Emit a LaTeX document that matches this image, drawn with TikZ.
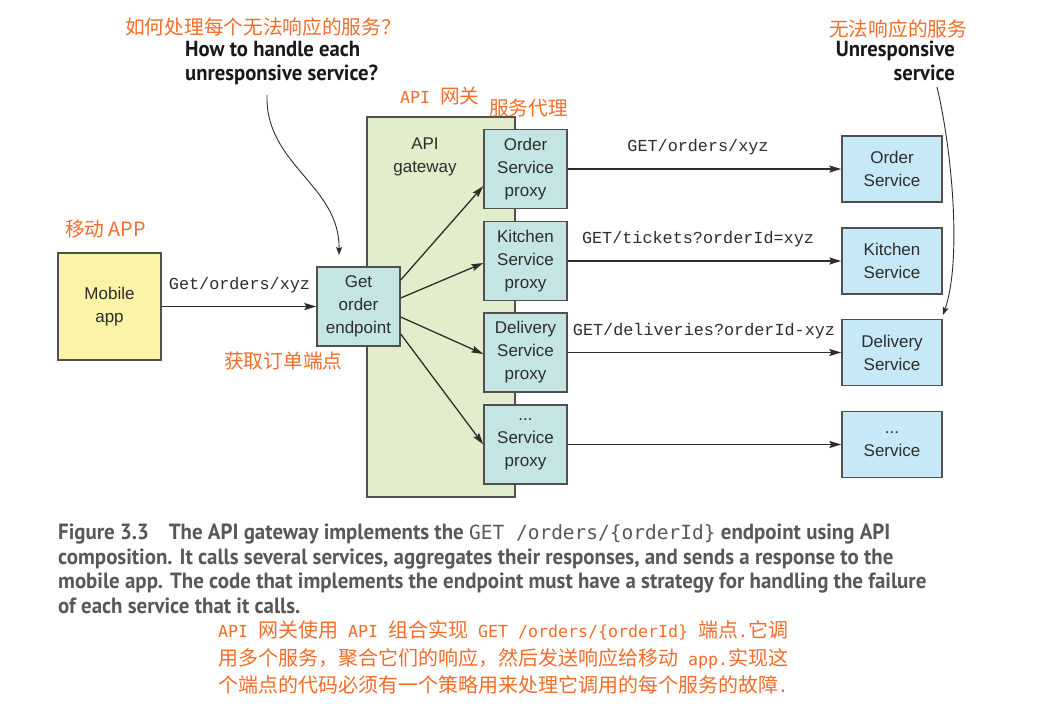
\documentclass[tikz,border=0pt]{standalone}
\usepackage{fontspec}
\setmainfont{Liberation Sans}
\newfontfamily\cjk{Noto Sans CJK SC}
\newfontfamily\codef{Liberation Mono}
\newfontfamily\omono{DejaVu Sans Mono}
\newfontfamily\capf[FakeStretch=0.95]{PT Sans}
\usetikzlibrary{arrows.meta}
\definecolor{orng}{RGB}{245,108,40}
\definecolor{edge}{RGB}{80,80,80}
\definecolor{yel}{RGB}{251,244,166}
\definecolor{gwc}{RGB}{226,237,203}
\definecolor{prx}{RGB}{196,229,227}
\definecolor{svc}{RGB}{199,233,247}
\definecolor{capg}{RGB}{88,88,88}
\definecolor{txt}{RGB}{45,45,45}
\begin{document}
\begin{tikzpicture}[x=1pt,y=-1pt,
  box/.style={draw=edge, line width=1.4pt, align=center, inner sep=0pt, text=txt,
    font=\fontsize{17}{23}\selectfont},
  proxybox/.style={box, fill=prx, minimum width=83pt, minimum height=79pt},
  svcbox/.style={box, fill=svc, minimum width=100pt, minimum height=66pt},
  arr/.style={draw=txt, line width=1.3pt, -{Stealth[length=12pt,width=7pt,inset=2pt]}},
  carr/.style={draw=txt, line width=0.9pt, -{Stealth[length=8pt,width=6pt,inset=1.5pt]}},
  code/.style={text=txt, font=\codef\fontsize{16.8}{20}\selectfont, inner sep=0pt},
  olab/.style={text=orng, font=\cjk\fontsize{19.7}{24}\selectfont, inner sep=0pt, anchor=west},
  blab/.style={text=black!90, font=\capf\bfseries\fontsize{21.8}{24}\selectfont, inner sep=0pt},
  capline/.style={text=capg, font=\capf\bfseries\fontsize{22}{24}\selectfont, inner sep=0pt, anchor=base west},
  cnline/.style={text=orng, font=\cjk\fontsize{20}{27}\selectfont, inner sep=0pt, anchor=base west}
]
\useasboundingbox (0,0) rectangle (1056,722);
\fill[white] (0,0) rectangle (1056,722);

% gateway
\node[draw=edge, line width=1.4pt, fill=gwc, minimum width=148pt, minimum height=380pt, inner sep=0pt] (gw) at (441,307) {};
\node[align=center, text=txt, font=\fontsize{17}{23}\selectfont, inner sep=0pt] (gwl) at (425,157) {API\\gateway};

% boxes
\node[box, fill=yel, minimum width=103pt, minimum height=107pt] (mob) at (109.5,306.5) {Mobile\\app};
\node[box, fill=prx, minimum width=83pt, minimum height=79pt] (ep) at (358.5,306.5) {Get\\order\\endpoint};

\node[proxybox] (p1) at (525.5,169) {Order\\Service\\proxy};
\node[proxybox] (p2) at (525.5,261) {Kitchen\\Service\\proxy};
\node[proxybox] (p3) at (525.5,352.5) {Delivery\\Service\\proxy};
\node[proxybox] (p4) at (525.5,444.5) {...\\Service\\proxy};

\node[svcbox] (s1) at (892,169) {Order\\Service};
\node[svcbox] (s2) at (892,261) {Kitchen\\Service};
\node[svcbox] (s3) at (892,352.5) {Delivery\\Service};
\node[svcbox] (s4) at (892,444.5) {...\\Service};

% connectors
\draw[arr] (mob) -- (ep);
\draw[arr] ([yshift=26.5pt]ep.east) -- ([yshift=-17pt]p1.west);
\draw[arr] ([yshift=8.5pt]ep.east) -- ([yshift=-2pt]p2.west);
\draw[arr] ([yshift=-10.5pt]ep.east) -- ([yshift=-1.5pt]p3.west);
\draw[arr] ([yshift=-27.5pt]ep.east) -- ([yshift=0pt]p4.west);
\draw[arr] (p1) -- (s1);
\draw[arr] (p2) -- (s2);
\draw[arr] (p3) -- (s3);
\draw[arr] (p4) -- (s4);

% connector labels
\node[code] (l0) at (239.5,285) {Get/orders/xyz};
\node[code] (l1) at (698,147) {GET/orders/xyz};
\node[code] (l2) at (698,239) {GET/tickets?orderId=xyz};
\node[code] (l3) at (704,331) {GET/deliveries?orderId-xyz};

% orange labels
\node[olab] (o1) at (125,27) {如何处理每个无法响应的服务？};
\node[olab] (o2) at (400,96) {{\omono\fontsize{16.6}{20}\selectfont API }网关};
\node[olab] (o3) at (489,108) {服务代理};
\node[olab] (o4) at (65,229) {移动 APP};
\node[olab] (o5) at (224,361) {获取订单端点};
\node[olab] (o6) at (829,29) {无法响应的服务};

% bold callouts
\node[blab, anchor=base west] (h1) at (185,57) {How to handle each};
\node[blab, anchor=base west] (h2) at (185,81) {unresponsive service?};
\node[blab, anchor=base east] (u1) at (955,57) {Unresponsive};
\node[blab, anchor=base east] (u2) at (955,81) {service};

\coordinate (c1) at (267,95);
\coordinate (t1) at (339,255);
\draw[carr] (c1) .. controls (265,165) and (340,185) .. (t1);
\coordinate (c2) at (937,87);
\coordinate (t2) at (943,315);
\draw[carr] (c2) .. controls (952,150) and (962,260) .. (t2);

% caption
\node[capline] (cap1) at (58,539) {Figure 3.3\hspace{0.9em}The API gateway implements the {\mdseries\omono\fontsize{19.5}{24}\selectfont GET /orders/\{orderId\}} endpoint using API};
\node[capline] (cap2) at (58,564) {composition. It calls several services, aggregates their responses, and sends a response to the};
\node[capline] (cap3) at (58,588) {mobile app. The code that implements the endpoint must have a strategy for handling the failure};
\node[capline] (cap4) at (58,613) {of each service that it calls.};

\node[cnline] (cn1) at (218,637) {{\omono\fontsize{16.6}{20}\selectfont API }网关使用{\omono\fontsize{16.6}{20}\selectfont{} API }组合实现{\omono\fontsize{16.6}{20}\selectfont{} GET /orders/\{orderId\} }端点{\omono\fontsize{16.6}{20}\selectfont .}它调};
\node[cnline] (cn2) at (218,665) {用多个服务，聚合它们的响应，然后发送响应给移动{\omono\fontsize{16.6}{20}\selectfont{} app.}实现这};
\node[cnline] (cn3) at (218,692) {个端点的代码必须有一个策略用来处理它调用的每个服务的故障{\omono\fontsize{16.6}{20}\selectfont .}};
\end{tikzpicture}
\end{document}
